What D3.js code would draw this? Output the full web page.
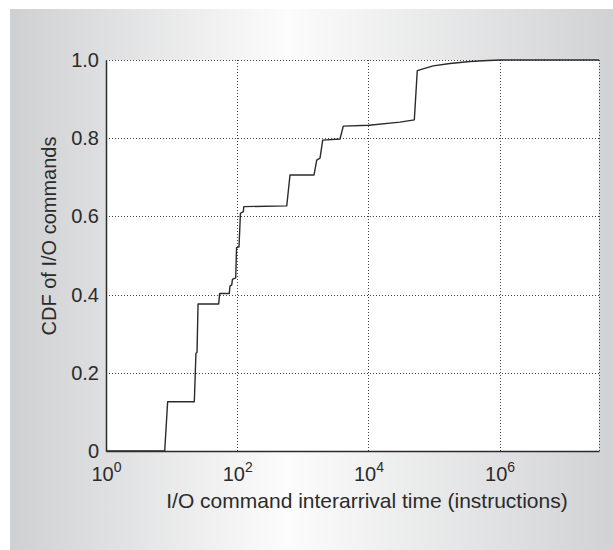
<!DOCTYPE html>
<html>
<head>
<meta charset="utf-8">
<script src="https://cdn.jsdelivr.net/npm/d3@7"></script>
<style>
  html, body { margin: 0; padding: 0; background: #ffffff; }
  svg { display: block; font-family: "Liberation Sans", Arial, Helvetica, sans-serif; }
</style>
</head>
<body>
<svg id="chart" width="613" height="550"></svg>
<script>
// Interarrival time (instructions) and cumulative fraction of I/O commands
const times = [1, 7.85, 8.7, 22.2, 23.5, 24.4, 25.3, 52.2, 54, 75.8, 77.6, 82.4, 84.7, 94.9, 97.7,
  106.5, 112, 124, 126, 569, 638, 1482, 1630, 1829, 2010, 3690, 4143, 10200, 30300, 50100,
  55600, 97000, 175000, 354000, 558000, 1010000, 32700000];
const cdf = [0, 0, 0.126, 0.126, 0.25, 0.252, 0.376, 0.376, 0.403, 0.403, 0.422, 0.424, 0.439, 0.443, 0.52,
  0.522, 0.608, 0.612, 0.625, 0.627, 0.706, 0.706, 0.744, 0.749, 0.795, 0.798, 0.831, 0.833, 0.841, 0.847,
  0.973, 0.985, 0.991, 0.996, 0.998, 1.0, 1.0];
const xTickValues = [1, 1e2, 1e4, 1e6];
const xTickExponents = ["0", "2", "4", "6"];
const yTickValues = [0, 0.2, 0.4, 0.6, 0.8, 1.0];
const yTickLabels = ["0", "0.2", "0.4", "0.6", "0.8", "1.0"];
const xLabel = "I/O command interarrival time (instructions)";
const yLabel = "CDF of I/O commands";

(function () {
const svg = d3.select("#chart");
const W = 613, H = 550;
const mL = 106, mR = 599, mT = 60, mB = 451;

// background panel with horizontal gradient
const defs = svg.append("defs");
const grad = defs.append("linearGradient").attr("id", "bg").attr("x1", "0%").attr("x2", "100%").attr("y1", "0%").attr("y2", "0%");
grad.append("stop").attr("offset", "0%").attr("stop-color", "#cfd0d2");
grad.append("stop").attr("offset", "46%").attr("stop-color", "#fcfcfc");
grad.append("stop").attr("offset", "100%").attr("stop-color", "#d1d2d4");
svg.append("rect").attr("x", 10).attr("y", 9).attr("width", W - 10).attr("height", H - 9).attr("fill", "url(#bg)");

const x = d3.scaleLog().domain([1, Math.pow(10, 7.515)]).range([mL, mR]);
const y = d3.scaleLinear().domain([0, 1]).range([mB, mT]);

// plot area
svg.append("rect").attr("x", mL).attr("y", mT).attr("width", mR - mL).attr("height", mB - mT).attr("fill", "#ffffff");

// grid (dotted)
const grid = svg.append("g").attr("stroke", "#444").attr("stroke-width", 1).attr("stroke-dasharray", "1,2").attr("fill", "none");
grid.selectAll("line.v").data(xTickValues.slice(1)).join("line")
  .attr("x1", d => Math.round(x(d)) + 0.5).attr("x2", d => Math.round(x(d)) + 0.5)
  .attr("y1", mT).attr("y2", mB);
grid.selectAll("line.h").data(yTickValues.slice(1)).join("line")
  .attr("x1", mL).attr("x2", mR)
  .attr("y1", d => Math.round(y(d)) + 0.5).attr("y2", d => Math.round(y(d)) + 0.5);
grid.append("line").attr("x1", mR + 0.5).attr("x2", mR + 0.5).attr("y1", mT).attr("y2", mB);

// data line
const pts = times.map((t, i) => [t, cdf[i]]);
svg.append("path").datum(pts)
  .attr("fill", "none").attr("stroke", "#2b2b2b").attr("stroke-width", 1.4).attr("stroke-linejoin", "round")
  .attr("d", d3.line().x(d => x(d[0])).y(d => y(d[1])));

// axes
const xAxis = svg.append("g").attr("transform", `translate(0,${mB})`)
  .call(d3.axisBottom(x).tickValues(xTickValues).tickSize(0).tickPadding(0).tickFormat(() => ""));
xAxis.select(".domain").attr("stroke", "#2b2b2b").attr("stroke-width", 1.5);
xAxis.selectAll(".tick text").each(function(d, i) {
  const t = d3.select(this);
  t.text(null).attr("y", 30).attr("dy", null).attr("fill", "#2b2b2b")
    .attr("font-size", 20).attr("text-anchor", "middle");
  t.append("tspan").text("10");
  t.append("tspan").attr("dy", -9).attr("font-size", 14).text(xTickExponents[i]);
});

const yAxis = svg.append("g").attr("transform", `translate(${mL},0)`)
  .call(d3.axisLeft(y).tickValues(yTickValues).tickSize(0).tickPadding(7).tickFormat((d, i) => yTickLabels[i]));
yAxis.select(".domain").attr("stroke", "#2b2b2b").attr("stroke-width", 1.5);
yAxis.selectAll(".tick text").attr("font-size", 20).attr("fill", "#2b2b2b");

// axis titles
svg.append("text").attr("x", 367).attr("y", 508).attr("text-anchor", "middle")
  .attr("font-size", 21).attr("fill", "#2b2b2b").text(xLabel);
svg.append("text").attr("transform", "translate(56,236) rotate(-90)").attr("text-anchor", "middle")
  .attr("font-size", 20).attr("fill", "#2b2b2b").text(yLabel);
})();
</script>
</body>
</html>
